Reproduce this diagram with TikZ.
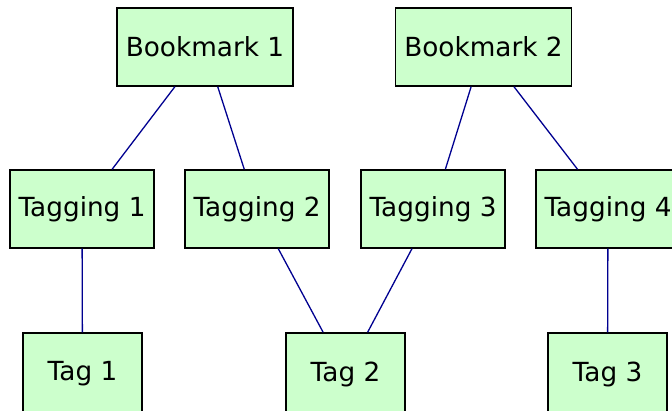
\documentclass[tikz,border=0pt]{standalone}
\usepackage{fontspec}
\setmainfont{DejaVu Sans}
\definecolor{boxfill}{HTML}{CCFFCC}
\definecolor{edgeblue}{HTML}{000090}
\begin{document}
\begin{tikzpicture}[x=1pt,y=-1pt,
  box/.style={draw=black,line width=1.4pt,fill=boxfill,inner sep=0pt,
    minimum height=78pt,font=\fontsize{26.3}{30}\selectfont},
  bm/.style={box,minimum width=176pt},
  tg/.style={box,minimum width=144pt},
  tt/.style={box,minimum width=119pt,minimum height=82pt},
  edge/.style={draw=edgeblue,line width=1.3pt}]
\useasboundingbox (0,0) rectangle (672,411);
\clip (0,0) rectangle (672,411);
\node[bm] (b1) at (205,47) {Bookmark 1};
\node[bm] (b2) at (483.5,47) {Bookmark 2};
\node[tg] (g1) at (82,209) {Tagging 1};
\node[tg] (g2) at (257,209) {Tagging 2};
\node[tg] (g3) at (433,209) {Tagging 3};
\node[tg] (g4) at (608,209) {Tagging 4};
\node[tt] (t1) at (82.5,374) {Tag 1};
\node[tt] (t2) at (345.5,374) {Tag 2};
\node[tt] (t3) at (607.5,374) {Tag 3};
\draw[edge] (b1) -- (g1);
\draw[edge] (b1) -- (g2);
\draw[edge] (b2) -- (g3);
\draw[edge] (b2) -- (g4);
\draw[edge] (g1) -- (t1);
\draw[edge] (g2) -- (t2);
\draw[edge] (g3) -- (t2);
\draw[edge] (g4) -- (t3);
\end{tikzpicture}
\end{document}
